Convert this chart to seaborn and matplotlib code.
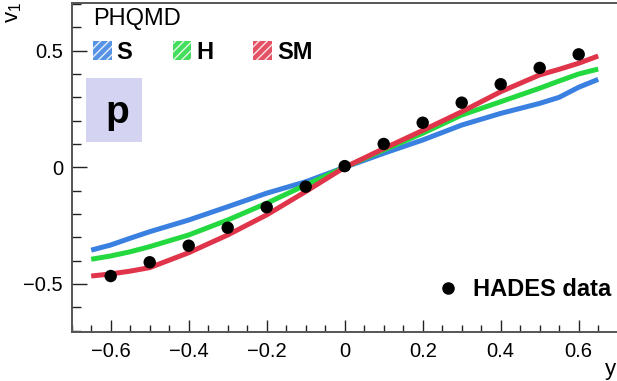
import numpy as np
import pandas as pd
import matplotlib
matplotlib.use("Agg")
import matplotlib.pyplot as plt
from matplotlib.patches import Patch, Rectangle
from matplotlib.lines import Line2D
from matplotlib.ticker import MultipleLocator, FixedLocator
import seaborn as sns

# PHQMD model curves: proton directed flow v1 versus rapidity y
model_y = [-0.65, -0.6, -0.55, -0.5, -0.4, -0.3, -0.2, -0.1, 0.0,
           0.1, 0.2, 0.3, 0.4, 0.5, 0.55, 0.6, 0.65]
v1_S = [-0.355, -0.333, -0.304, -0.276, -0.226, -0.169, -0.111, -0.062, 0.0,
        0.060, 0.117, 0.181, 0.231, 0.274, 0.300, 0.343, 0.377]
v1_H = [-0.394, -0.380, -0.362, -0.340, -0.290, -0.226, -0.154, -0.076, 0.0,
        0.074, 0.146, 0.224, 0.281, 0.339, 0.370, 0.400, 0.421]
v1_SM = [-0.466, -0.457, -0.445, -0.430, -0.366, -0.290, -0.204, -0.104, 0.0,
         0.080, 0.158, 0.238, 0.324, 0.396, 0.420, 0.446, 0.477]

# HADES measurement
hades_y = [-0.6, -0.5, -0.4, -0.3, -0.2, -0.1, 0.0, 0.1, 0.2, 0.3, 0.4, 0.5, 0.6]
hades_v1 = [-0.466, -0.407, -0.336, -0.259, -0.171, -0.083, 0.005,
            0.100, 0.191, 0.277, 0.356, 0.426, 0.484]

model_names = ["S", "H", "SM"]
model_colors = {"S": "#3a80e0", "H": "#24d93f", "SM": "#e0344a"}

models = pd.concat([
    pd.DataFrame({"y": model_y, "v1": vals, "model": name})
    for name, vals in zip(model_names, [v1_S, v1_H, v1_SM])
], ignore_index=True)
hades = pd.DataFrame({"y": hades_y, "v1": hades_v1})

sns.set_theme(style="white")
plt.rcParams["font.family"] = ["Liberation Sans", "DejaVu Sans"]
plt.rcParams["mathtext.fontset"] = "custom"
plt.rcParams["mathtext.rm"] = "Liberation Sans"
plt.rcParams["mathtext.default"] = "regular"
for key in ["text.color", "axes.labelcolor", "xtick.color", "ytick.color",
            "legend.labelcolor"]:
    plt.rcParams[key] = "black"

W, H = 617, 381
fig = plt.figure(figsize=(W / 100, H / 100), dpi=100)
x0, x1 = 71.7, 617.7
y0, y1 = 2.8, 331.8
ax = fig.add_axes([x0 / W, 1 - y1 / H, (x1 - x0) / W, (y1 - y0) / H])

sns.lineplot(data=models, x="y", y="v1", hue="model", hue_order=model_names,
             palette=model_colors, lw=3.6, legend=False, ax=ax,
             solid_capstyle="butt", zorder=3)
sns.scatterplot(data=hades, x="y", y="v1", color="black", s=80,
                edgecolor="none", ax=ax, zorder=4)

ax.set_xlim(-0.7, 0.7)
ax.set_ylim(-0.705, 0.705)
ax.set_xlabel("")
ax.set_ylabel("")

spine_col = "#555555"
for side in ["left", "bottom", "top"]:
    ax.spines[side].set_color(spine_col)
    ax.spines[side].set_linewidth(1.4)
ax.spines["right"].set_visible(False)

ax.xaxis.set_major_locator(FixedLocator([-0.6, -0.4, -0.2, 0, 0.2, 0.4, 0.6]))
ax.xaxis.set_minor_locator(MultipleLocator(0.05))
ax.yaxis.set_major_locator(FixedLocator([-0.5, 0, 0.5]))
ax.yaxis.set_minor_locator(MultipleLocator(0.1))
ax.set_xticklabels(["\u22120.6", "\u22120.4", "\u22120.2", "0", "0.2", "0.4", "0.6"])
ax.set_yticklabels(["\u22120.5", "0", "0.5"])

ax.tick_params(axis="x", which="major", direction="in", length=8.6, width=1,
               color="#222222", labelsize=14.5, pad=7, bottom=True, top=False,
               labelcolor="black")
ax.tick_params(axis="x", which="minor", direction="in", length=5, width=1,
               color="#222222", bottom=True, top=False)
ax.tick_params(axis="y", which="major", direction="in", length=10.8, width=1,
               color="#222222", labelsize=14.5, pad=6.3, left=True, right=False,
               labelcolor="black")
ax.tick_params(axis="y", which="minor", direction="in", length=6.5, width=1,
               color="#222222", left=True, right=False)

# particle species box
ax.add_patch(Rectangle(((86 - 344.7) / 390, (167.3 - 141.7) / 233.3),
                       56 / 390, 63.4 / 233.3, facecolor="#d4d4f2",
                       edgecolor="none", zorder=2))
ax.text((117 - 344.7) / 390, (167.3 - 123.5) / 233.3, "p", fontsize=28,
        fontweight="bold", ha="center", va="baseline", zorder=3)

# model legend
handles = [Patch(facecolor=model_colors[m], edgecolor="white", hatch="////",
                 linewidth=0, alpha=0.85) for m in model_names]
leg = ax.legend(handles, model_names, title="PHQMD", ncol=3, loc="upper left",
                bbox_to_anchor=((93 - x0) / (x1 - x0), 1 - (8 - y0) / (y1 - y0)),
                frameon=False, borderpad=0, borderaxespad=0,
                handlelength=0.8, handleheight=0.82, handletextpad=0.2,
                columnspacing=1.7, fontsize=17, title_fontsize=17,
                alignment="left", labelspacing=0.45)
for t in leg.get_texts():
    t.set_fontweight("bold")
    t.set_color("black")
leg.get_title().set_color("black")
ax.add_artist(leg)

# measurement legend
dot = Line2D([], [], marker="o", color="black", linestyle="none", markersize=8)
leg2 = ax.legend([dot], ["HADES data"], loc="lower right",
                 bbox_to_anchor=(1 - (617.7 - 611) / (x1 - x0),
                                 (331.8 - 301) / (y1 - y0)),
                 frameon=False, borderpad=0, borderaxespad=0, handlelength=0.6,
                 handletextpad=0.75, prop={"weight": "bold", "size": 17})
for t in leg2.get_texts():
    t.set_color("black")

fig.text(14 / W, 1 - 12 / H, "$v_{1}$", rotation=90, fontsize=16,
         ha="center", va="center")
fig.text(610 / W, 1 - 369 / H, "y", fontsize=16, ha="center", va="center")

fig.savefig("out.png", dpi=100)
